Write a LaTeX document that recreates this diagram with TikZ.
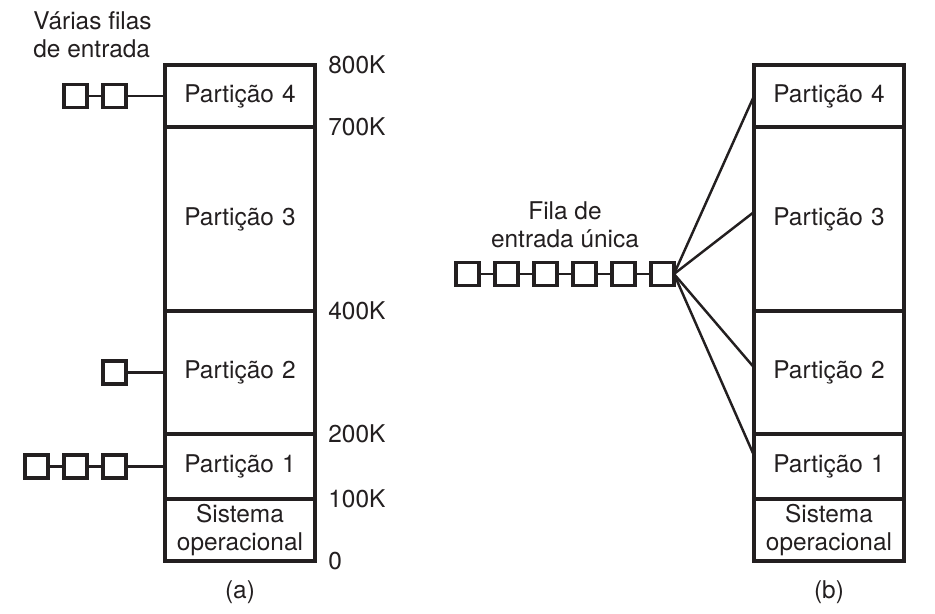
\documentclass[tikz,border=0pt]{standalone}
\usepackage{fontspec}
\setsansfont{TeX Gyre Heros}
\usetikzlibrary{positioning,calc}
\definecolor{ink}{HTML}{231F20}

\begin{document}
\begin{tikzpicture}[
	font=\fontsize{13.9}{16}\selectfont\sffamily,
	color=ink,
	part/.style={
		draw,
		line width=2.1pt,
		minimum width=3cm,
		text width=2.9cm,
		align=center,
		inner sep=0pt,
		outer sep=0pt,
	},
	qbox/.style={
		draw,
		line width=1.9pt,
		minimum size=0.46cm,
		inner sep=0pt,
		outer sep=0pt,
	},
	wire/.style={line width=1.4pt},
	addr/.style={inner sep=0pt},
	lbl/.style={inner sep=0pt, align=center},
]
\useasboundingbox (0,0) rectangle (18.70,12.28);

% (a) particoes com uma fila para cada uma
\node[part, minimum height=1.24cm] (p4a) at (4.80,10.36) {Partição 4};
\node[part, minimum height=3.68cm, below=0pt of p4a] (p3a) {Partição 3};
\node[part, minimum height=2.46cm, below=0pt of p3a] (p2a) {Partição 2};
\node[part, minimum height=1.30cm, below=0pt of p2a] (p1a) {Partição 1};
\node[part, minimum height=1.24cm, below=0pt of p1a] (osa) {Sistema\\operacional};

\node[addr, right=0.26cm of p4a.north east] (k800) {800K};
\node[addr, right=0.26cm of p3a.north east] (k700) {700K};
\node[addr, right=0.26cm of p2a.north east] (k400) {400K};
\node[addr, right=0.26cm of p1a.north east] (k200) {200K};
\node[addr, right=0.26cm of osa.north east] (k100) {100K};
\node[addr, right=0.26cm of osa.south east] (k0) {0};

\node[qbox, left=0.78cm of p4a] (q4a1) {};
\node[qbox, left=0.32cm of q4a1] (q4a2) {};
\node[qbox, left=0.78cm of p2a] (q2a1) {};
\node[qbox, left=0.78cm of p1a] (q1a1) {};
\node[qbox, left=0.32cm of q1a1] (q1a2) {};
\node[qbox, left=0.32cm of q1a2] (q1a3) {};

\draw[wire] (q4a1) -- (p4a);
\draw[wire] (q4a2) -- (q4a1);
\draw[wire] (q2a1) -- (p2a);
\draw[wire] (q1a1) -- (p1a);
\draw[wire] (q1a2) -- (q1a1);
\draw[wire] (q1a3) -- (q1a2);

\node[lbl, align=left, anchor=north west] (title_a) at (0.66,12.06) {Várias filas\\de entrada};
\node[lbl, below=0.38cm of osa] (cap_a) {(a)};

% (b) uma fila so para todas as particoes
\node[part, minimum height=1.24cm] (p4b) at (16.58,10.36) {Partição 4};
\node[part, minimum height=3.68cm, below=0pt of p4b] (p3b) {Partição 3};
\node[part, minimum height=2.46cm, below=0pt of p3b] (p2b) {Partição 2};
\node[part, minimum height=1.30cm, below=0pt of p2b] (p1b) {Partição 1};
\node[part, minimum height=1.24cm, below=0pt of p1b] (osb) {Sistema\\operacional};

\node[qbox] (q6b) at (13.25,6.80) {};
\node[qbox, left=0.32cm of q6b] (q5b) {};
\node[qbox, left=0.32cm of q5b] (q4b) {};
\node[qbox, left=0.32cm of q4b] (q3b) {};
\node[qbox, left=0.32cm of q3b] (q2b) {};
\node[qbox, left=0.32cm of q2b] (q1b) {};

\draw[wire] (q1b) -- (q2b);
\draw[wire] (q2b) -- (q3b);
\draw[wire] (q3b) -- (q4b);
\draw[wire] (q4b) -- (q5b);
\draw[wire] (q5b) -- (q6b);

\draw[wire] (q6b.east) -- (p4b.west);
\draw[wire] (q6b.east) -- ([yshift=0.14cm]p3b.west);
\draw[wire] (q6b.east) -- ([yshift=0.10cm]p2b.west);
\draw[wire] (q6b.east) -- ([yshift=0.22cm]p1b.west);

\node[lbl, above=0.28cm] (title_b) at ($(q3b.north)!0.5!(q4b.north)$) {Fila de\\entrada única};
\node[lbl, below=0.38cm of osb] (cap_b) {(b)};

\end{tikzpicture}
\end{document}
